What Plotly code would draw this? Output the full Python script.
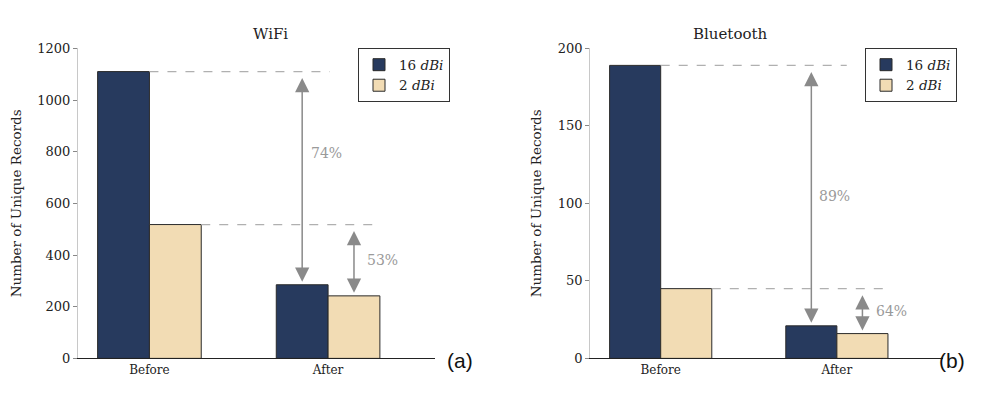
import plotly.graph_objects as go

categories = ["Before", "After"]
series_names = ["16 <i>dBi</i>", "2 <i>dBi</i>"]
wifi_16 = [1110, 285]
wifi_2 = [518, 242]
bt_16 = [189, 21]
bt_2 = [45, 16]
titles = ["WiFi", "Bluetooth"]
panel_labels = ["(a)", "(b)"]

NAVY = "#273a5e"
BEIGE = "#f2dcb4"
EDGE = "#2a2a2a"
GRAY = "#8a8a8a"
SERIF = "'DejaVu Serif', serif"

fig = go.Figure()

panels = [
    dict(s16=wifi_16, s2=wifi_2, xa="x", ya="y", leg="legend", ymax=1200, dtick=200,
         top_end=1.01, low_end=1.29, label_shift=[25, 0], xshift=[7, 11], standoff=12),
    dict(s16=bt_16, s2=bt_2, xa="x2", ya="y2", leg="legend2", ymax=200, dtick=50,
         top_end=1.056, low_end=1.29, label_shift=[0, 0], xshift=[6, 12], standoff=12),
]

for i, p in enumerate(panels):
    fig.add_trace(go.Bar(x=[0, 1], y=p["s16"], name=series_names[0], marker_color=NAVY,
                         marker_line=dict(color=EDGE, width=1), xaxis=p["xa"], yaxis=p["ya"],
                         legend=p["leg"], offsetgroup="a"))
    fig.add_trace(go.Bar(x=[0, 1], y=p["s2"], name=series_names[1], marker_color=BEIGE,
                         marker_line=dict(color=EDGE, width=1), xaxis=p["xa"], yaxis=p["ya"],
                         legend=p["leg"], offsetgroup="b"))
    # dashed reference lines
    fig.add_shape(type="line", xref=p["xa"], yref=p["ya"], x0=0, x1=p["top_end"],
                  y0=p["s16"][0], y1=p["s16"][0], line=dict(color="#b0b0b0", width=1.2, dash="dash"))
    fig.add_shape(type="line", xref=p["xa"], yref=p["ya"], x0=0.29, x1=p["low_end"],
                  y0=p["s2"][0], y1=p["s2"][0], line=dict(color="#b0b0b0", width=1.2, dash="dash"))
    # arrows
    for k, (ser, xo) in enumerate([(p["s16"], 0.855), (p["s2"], 1.145)]):
        fig.add_annotation(x=xo, y=ser[1], ax=xo, ay=ser[0],
                           xref=p["xa"], yref=p["ya"], axref=p["xa"], ayref=p["ya"],
                           showarrow=True, arrowside="end+start", arrowhead=2, arrowsize=1.9,
                           arrowwidth=1.5, arrowcolor=GRAY, standoff=3, startstandoff=5, text="")
        pct = round((1 - ser[1] / ser[0]) * 100)
        fig.add_annotation(x=xo, y=(ser[0] + ser[1]) / 2, xref=p["xa"], yref=p["ya"],
                           text=f"{pct}%", showarrow=False, xanchor="left", xshift=p["xshift"][k],
                           yshift=p["label_shift"][k],
                           font=dict(family=SERIF, size=14, color="#9a9a9a"))

dom_x = [[0.079, 0.441], [0.598, 0.955]]
dom_y = [0.099, 0.894]
for i, p in enumerate(panels):
    sfx = "" if i == 0 else "2"
    fig.layout["xaxis" + sfx] = dict(domain=dom_x[i], range=[-0.4, 1.6], tickvals=[0, 1],
                                     ticktext=categories, showline=True, linecolor="#222",
                                     linewidth=1.2, ticks="", showgrid=False, zeroline=False,
                                     tickfont=dict(family=SERIF, size=12, color="#222"),
                                     anchor="y" + sfx, fixedrange=True)
    fig.layout["yaxis" + sfx] = dict(domain=dom_y, range=[0, p["ymax"]], dtick=p["dtick"],
                                     showline=True, linecolor="#c8c8c8", linewidth=1.2,
                                     ticks="outside", ticklen=4, tickcolor="#888",
                                     showgrid=False, zeroline=False,
                                     tickfont=dict(family=SERIF, size=13, color="#222"),
                                     title=dict(text="Number of Unique Records",
                                                font=dict(family=SERIF, size=13.5, color="#222"),
                                                standoff=p["standoff"]),
                                     anchor="x" + sfx, fixedrange=True)
    fig.add_annotation(text=titles[i], x=(dom_x[i][0] + dom_x[i][1]) / 2 - (0.006 if i == 0 else -0.003),
                       y=1 - 17 / 405, xref="paper", yref="paper", showarrow=False,
                       font=dict(family=SERIF, size=15, color="#222"))
    fig.add_annotation(text=panel_labels[i], x=(460 if i == 0 else 967) / 987, y=1 - 381 / 405,
                       xref="paper", yref="paper", showarrow=False,
                       font=dict(family="'Liberation Sans', Arial, sans-serif", size=21, color="#111"))

legend_common = dict(bgcolor="white", bordercolor="#333", borderwidth=1,
                     font=dict(family=SERIF, size=13.5, color="#222"), xanchor="left",
                     yanchor="top", tracegroupgap=2, itemwidth=30)
fig.update_layout(
    legend=dict(x=358 / 987, y=1 - 43 / 405, **legend_common),
    legend2=dict(x=865 / 987, y=1 - 43 / 405, **legend_common),
    barmode="group", bargap=0.42, bargroupgap=0,
    width=987, height=405, margin=dict(l=0, r=0, t=0, b=0),
    plot_bgcolor="white", paper_bgcolor="white",
)

fig.write_html("out.html")
